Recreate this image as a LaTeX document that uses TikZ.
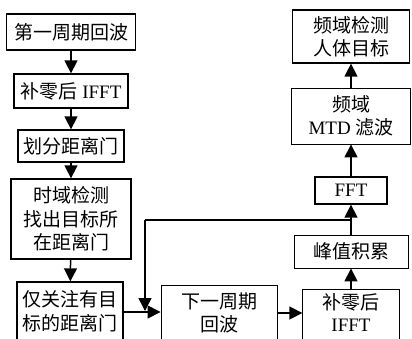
\documentclass[tikz,border=0pt]{standalone}
\usepackage{fontspec}
\setmainfont{Liberation Serif}
\newfontfamily\cjk{Noto Sans CJK SC}
\usetikzlibrary{arrows.meta}
\begin{document}
\begin{tikzpicture}[x=1pt,y=-1pt,
  box/.style={draw,line width=1.3pt,inner sep=0pt,align=center,font=\fontsize{19}{23.5}\selectfont},
  thin/.style={line width=0.9pt},
  arr/.style={line width=1.5pt,-{Triangle[length=13pt,width=13pt]}},
  ln/.style={line width=1.5pt}]
\useasboundingbox (0,0) rectangle (412,338);
\clip (0,0) rectangle (412,338);
\node[box,minimum width=129,minimum height=36] (b1) at (71,32) {\cjk 第一周期回波};
\node[box,minimum width=114,minimum height=34] (b2) at (71,91) {{\cjk 补零后} IFFT};
\node[box,minimum width=106,minimum height=32] (b3) at (71,146) {\cjk 划分距离门};
\node[box,minimum width=120,minimum height=80] (b4) at (71,219) {\cjk 时域检测\\\cjk 找出目标所\\\cjk 在距离门};
\node[box,minimum width=106,minimum height=58] (b5) at (70,311) {\cjk 仅关注有目\\\cjk 标的距离门};
\node[box,thin,minimum width=116,minimum height=56] (b6) at (219,313) {\cjk 下一周期\\\cjk 回波};
\node[box,draw=none,minimum width=96,minimum height=46,font=\fontsize{19}{22}\selectfont] (b7) at (351,313) {\cjk 补零后\\IFFT};
\node[box,thin,minimum width=114,minimum height=33] (b8) at (351,251.5) {\cjk 峰值积累};
\node[box,minimum width=72,minimum height=27] (b9) at (351,190.5) {FFT};
\node[box,thin,minimum width=119,minimum height=56] (b10) at (351,116) {\cjk 频域\\MTD {\cjk 滤波}};
\node[box,minimum width=117,minimum height=53] (b11) at (351,36.5) {\cjk 频域检测\\\cjk 人体目标};
\draw[line width=1.3pt] ([yshift=-12pt]b7.south west) -- (b7.north west) -- (b7.north east) -- ([yshift=-12pt]b7.south east);
\draw[arr] (b1) -- (b2);
\draw[arr] (b2) -- (b3);
\draw[arr] (b3) -- (b4);
\draw[arr] (b4) -- (b5);
\draw[arr] (b5.east |- 0,312) coordinate (s5) -- (s5 -| b6.west);
\draw[arr] (b6.east |- 0,313) coordinate (s6) -- (s6 -| b7.west);
\draw[arr] (b7) -- (b8);
\draw[arr] (b8) -- (b9);
\draw[arr] (b9) -- (b10);
\draw[arr] (b10) -- (b11);
\coordinate (fb1) at (351,220);
\coordinate (fb2) at (145,220);
\coordinate (join) at (145,311);
\draw[ln] (fb1) -- (fb2);
\draw[arr] (fb2) -- (join);
\end{tikzpicture}
\end{document}
